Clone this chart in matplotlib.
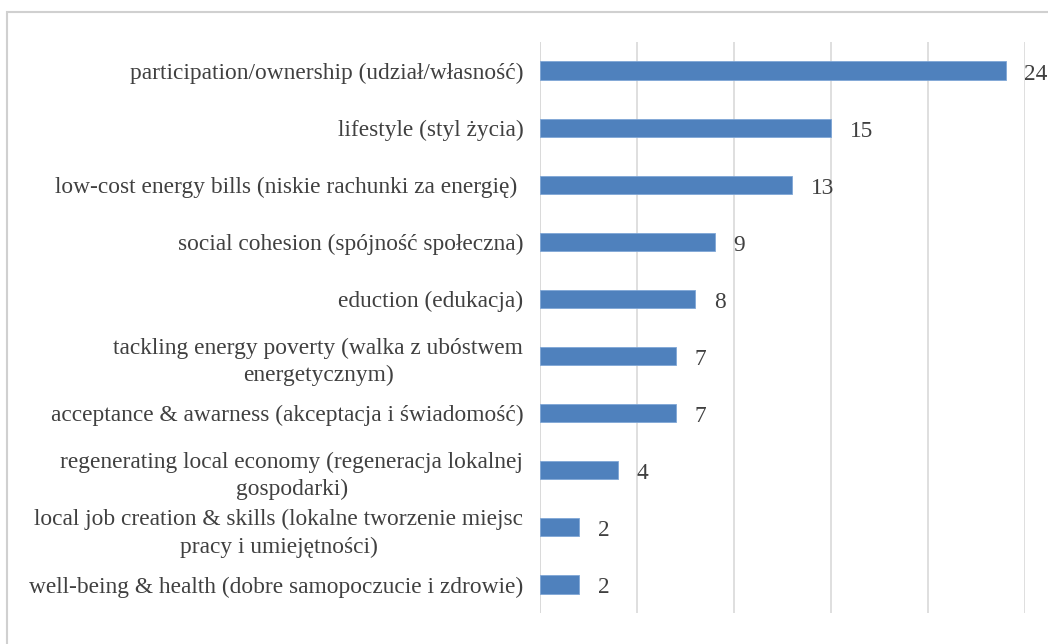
import matplotlib
matplotlib.use("Agg")
import matplotlib.pyplot as plt
from matplotlib.patches import Rectangle

categories = [
    "participation/ownership (udział/własność)",
    "lifestyle (styl życia)",
    "low-cost energy bills (niskie rachunki za energię) ",
    "social cohesion (spójność społeczna)",
    "eduction (edukacja)",
    "tackling energy poverty (walka z ubóstwem\nenergetycznym)",
    "acceptance & awarness (akceptacja i świadomość)",
    "regenerating local economy (regeneracja lokalnej\ngospodarki)",
    "local job creation & skills (lokalne tworzenie miejsc\npracy i umiejętności)",
    "well-being & health (dobre samopoczucie i zdrowie)",
]
values = [24, 15, 13, 9, 8, 7, 7, 4, 2, 2]
xticks = [0, 5, 10, 15, 20, 25]

plt.rcParams['font.family'] = ['Liberation Serif', 'DejaVu Serif']
text_color = '#404040'
fs = 16.8

fig = plt.figure(figsize=(10.48, 6.44), dpi=100)
fig.patch.set_facecolor('white')

# chart frame
fig.patches.append(Rectangle((7/1048, -0.05), 1.1, 1 - 12/644 + 0.05,
                             transform=fig.transFigure, fill=False,
                             edgecolor='#d0d0d0', linewidth=1.5, zorder=0))

ax = fig.add_axes([540/1048, 1 - 613/644, (1025 - 540)/1048, (613 - 42)/644])
y = list(range(len(categories)))
ax.barh(y, values, height=0.32, color='#4f81bd', edgecolor='#7fa6d6', linewidth=0.6, zorder=3)
ax.set_xlim(0, 25)
ax.set_ylim(len(categories) - 0.5, -0.5)
ax.set_xticks(xticks)
ax.xaxis.grid(True, color='#d9d9d9', linewidth=1.2, zorder=0)
ax.set_xticklabels([])
ax.tick_params(axis='x', length=0)
ax.set_yticks(y)
ax.set_yticklabels(categories, fontsize=fs, color=text_color,
                   multialignment='center', linespacing=1.4)
ax.tick_params(axis='y', length=0, pad=12)
for s in ['top', 'right', 'bottom', 'left']:
    ax.spines[s].set_visible(False)
ax.axvline(0, color='#d9d9d9', linewidth=1.2, zorder=1)

for yi, v in zip(y, values):
    ax.annotate(str(v), xy=(v, yi), xytext=(13.5, -2.5), textcoords='offset points',
                va='center', ha='left', fontsize=fs, color=text_color,
                annotation_clip=False)

fig.savefig('out.png', dpi=100)
